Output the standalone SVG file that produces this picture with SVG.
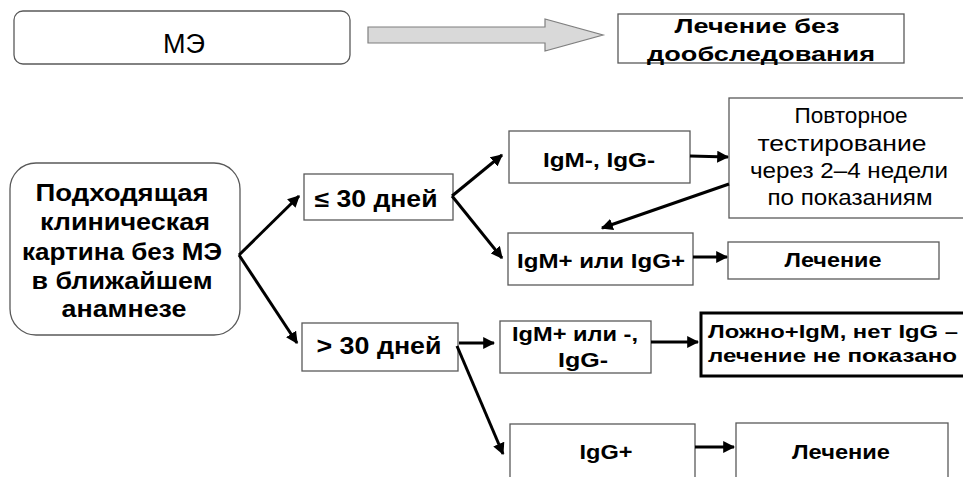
<svg xmlns="http://www.w3.org/2000/svg" width="963" height="477" viewBox="0 0 963 477">
<style>
.box{fill:#fff;stroke:#595959;stroke-width:1.3}
.t{font-family:"Liberation Sans",Arial,sans-serif;fill:#000;text-anchor:middle}
.b{font-weight:bold}
.s{text-anchor:start}
.c{stroke:#000;stroke-width:3;fill:none;marker-end:url(#ah)}
</style>
<defs>
<marker id="ah" viewBox="0 0 10 10" refX="9" refY="5" markerWidth="4" markerHeight="4" orient="auto" markerUnits="strokeWidth">
<path d="M0,0 L10,5 L0,10 z" fill="#000"/>
</marker>
</defs>
<rect width="963" height="477" fill="#fff"/>
<g id="me">
<rect class="box" x="14" y="11" width="336" height="53" rx="9"/>
<text class="t" x="184" y="53" font-size="27" textLength="42" lengthAdjust="spacingAndGlyphs">МЭ</text>
</g>
<g id="big-arrow">
<path d="M368,27 L545,27 L545,19 L603,35 L545,51 L545,43 L368,43 z" fill="#d9d9d9" stroke="#7f7f7f" stroke-width="1.2"/>
</g>
<g id="no-tests">
<rect class="box" x="618" y="14" width="286" height="49" stroke="#404040"/>
<text class="t b" x="757" y="33" font-size="21" textLength="165" lengthAdjust="spacingAndGlyphs">Лечение без</text>
<text class="t b" x="761" y="61" font-size="21" textLength="228" lengthAdjust="spacingAndGlyphs">дообследования</text>
</g>
<g id="clinical">
<rect class="box" x="10" y="163" width="230" height="172" rx="26"/>
<text class="t b" x="122" y="201" font-size="23" textLength="173" lengthAdjust="spacingAndGlyphs">Подходящая</text>
<text class="t b" x="125" y="230" font-size="23" textLength="170" lengthAdjust="spacingAndGlyphs">клиническая</text>
<text class="t b" x="122" y="260" font-size="23" textLength="200" lengthAdjust="spacingAndGlyphs">картина без МЭ</text>
<text class="t b" x="122" y="289" font-size="23" textLength="181" lengthAdjust="spacingAndGlyphs">в ближайшем</text>
<text class="t b" x="124" y="317" font-size="23" textLength="125" lengthAdjust="spacingAndGlyphs">анамнезе</text>
</g>
<g id="le30">
<rect class="box" x="304" y="174" width="149" height="46"/>
<text class="t b" x="376" y="207" font-size="23" textLength="123" lengthAdjust="spacingAndGlyphs">≤ 30 дней</text>
</g>
<g id="gt30">
<rect class="box" x="302" y="323" width="156" height="48"/>
<text class="t b" x="379" y="354" font-size="23" textLength="125" lengthAdjust="spacingAndGlyphs">&gt; 30 дней</text>
</g>
<g id="igm-neg">
<rect class="box" x="509" y="131" width="181" height="52"/>
<text class="t b" x="599" y="167" font-size="21" textLength="112" lengthAdjust="spacingAndGlyphs">IgM-, IgG-</text>
</g>
<g id="igm-pos">
<rect class="box" x="508" y="233" width="185" height="52"/>
<text class="t b" x="601" y="268" font-size="21" textLength="168" lengthAdjust="spacingAndGlyphs">IgM+ или IgG+</text>
</g>
<g id="retest">
<rect class="box" x="729" y="98" width="241" height="120"/>
<text class="t" x="851" y="123" font-size="22" textLength="113" lengthAdjust="spacingAndGlyphs">Повторное</text>
<text class="t" x="842" y="151" font-size="22" textLength="169" lengthAdjust="spacingAndGlyphs">тестирование</text>
<text class="t" x="849" y="178" font-size="22" textLength="198" lengthAdjust="spacingAndGlyphs">через 2–4 недели</text>
<text class="t" x="850" y="205" font-size="22" textLength="165" lengthAdjust="spacingAndGlyphs">по показаниям</text>
</g>
<g id="treat1">
<rect class="box" x="728" y="242" width="211" height="37"/>
<text class="t b" x="833" y="267" font-size="21" textLength="97" lengthAdjust="spacingAndGlyphs">Лечение</text>
</g>
<g id="igm-any">
<rect class="box" x="500" y="321" width="151" height="52"/>
<text class="t b" x="575" y="341" font-size="21" textLength="126" lengthAdjust="spacingAndGlyphs">IgM+ или -,</text>
<text class="t b" x="583" y="367" font-size="21" textLength="50" lengthAdjust="spacingAndGlyphs">IgG-</text>
</g>
<g id="false-pos">
<rect x="701" y="313" width="275" height="63" fill="#fff" stroke="#000" stroke-width="3"/>
<text class="t b s" x="708" y="338" font-size="19" textLength="250" lengthAdjust="spacingAndGlyphs">Ложно+IgM, нет IgG –</text>
<text class="t b s" x="708" y="362" font-size="19" textLength="249" lengthAdjust="spacingAndGlyphs">лечение не показано</text>
</g>
<g id="igg-pos">
<rect class="box" x="510" y="424" width="185" height="70"/>
<text class="t b" x="606" y="459" font-size="21" textLength="53" lengthAdjust="spacingAndGlyphs">IgG+</text>
</g>
<g id="treat2">
<rect class="box" x="736" y="423" width="212" height="70"/>
<text class="t b" x="841" y="459" font-size="21" textLength="98" lengthAdjust="spacingAndGlyphs">Лечение</text>
</g>
<g id="connectors">
<line class="c" x1="239" y1="255" x2="299" y2="196"/>
<line class="c" x1="239" y1="255" x2="297" y2="343"/>
<line class="c" x1="452" y1="196" x2="502" y2="155"/>
<line class="c" x1="452" y1="196" x2="502" y2="258"/>
<line class="c" x1="690" y1="156" x2="728" y2="157"/>
<line class="c" x1="729" y1="184" x2="602" y2="228"/>
<line class="c" x1="693" y1="257" x2="727" y2="257"/>
<line class="c" x1="459" y1="343" x2="494" y2="343"/>
<line class="c" x1="457" y1="346" x2="503" y2="454"/>
<line class="c" x1="651" y1="342" x2="698" y2="342"/>
<line class="c" x1="695" y1="447" x2="734" y2="447"/>
</g>
</svg>
